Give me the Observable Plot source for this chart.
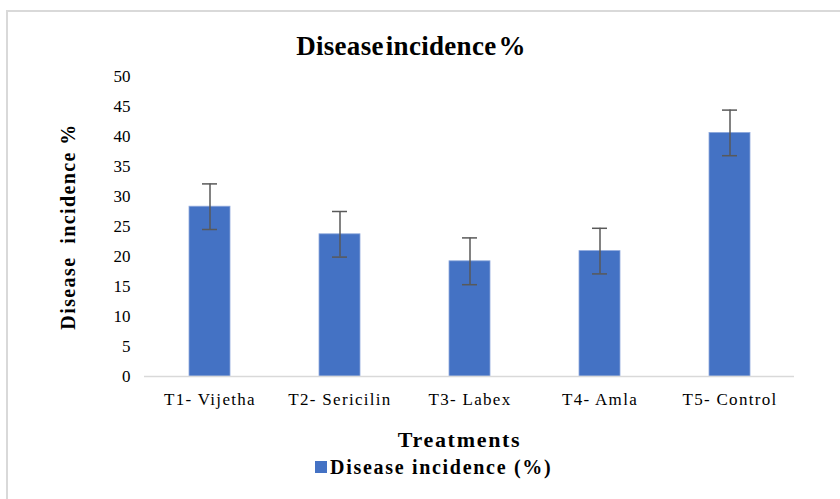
<!DOCTYPE html>
<html>
<head>
<meta charset="utf-8">
<script src="https://cdn.jsdelivr.net/npm/d3@7"></script>
<script src="https://cdn.jsdelivr.net/npm/@observablehq/plot@0.6"></script>
<style>
  html, body { margin: 0; padding: 0; background: #fff; overflow: hidden; }
  body { width: 840px; height: 499px; position: relative; font-family: "Liberation Serif", "Times New Roman", serif; }
  #frame { position: absolute; left: 6px; top: 10px; width: 850px; height: 520px; border: 2px solid #d9d9d9; box-sizing: border-box; }
  #title { position: absolute; left: 0; top: 31px; width: 822px; text-align: center; font-weight: bold; font-size: 27px; letter-spacing: 0.3px; word-spacing: -5px; color: #000; }
  #chart { position: absolute; left: 0; top: 62px; }
  #legend { position: absolute; left: 315px; top: 456px; white-space: nowrap; font-weight: bold; font-size: 20px; letter-spacing: 1.7px; color: #000; }
  #legend .sw { display: inline-block; width: 12px; height: 12px; background: #4472C4; margin-right: 3px; vertical-align: 1px; }
  #chart svg g[aria-label="x-axis tick label"] text { letter-spacing: 1.3px; }
</style>
</head>
<body>
<div id="frame"></div>
<div id="title">Disease incidence %</div>
<div id="chart"></div>
<div id="legend"><span class="sw"></span>Disease incidence (%)</div>
<script>
const treatments = ["T1- Vijetha", "T2- Sericilin", "T3- Labex", "T4- Amla", "T5- Control"];
const incidence = [28.3, 23.7, 19.2, 20.9, 40.6];
const errors = [3.8, 3.8, 3.9, 3.8, 3.8];
const yTicks = [0, 5, 10, 15, 20, 25, 30, 35, 40, 45, 50];
const xTitle = "Treatments";
const yTitle = "Disease  incidence %";

const data = treatments.map((t, i) => ({t, v: incidence[i], lo: incidence[i] - errors[i], hi: incidence[i] + errors[i]}));

const plot = Plot.plot({
  width: 840,
  height: 392,
  marginLeft: 144,
  marginRight: 46,
  marginTop: 14,
  marginBottom: 78,
  style: {fontFamily: "'Liberation Serif', 'Times New Roman', serif", fontSize: "17px", color: "#000", background: "transparent"},
  x: {domain: treatments, paddingInner: 0.685, paddingOuter: 0.3425, label: null, tickSize: 0, tickPadding: 16},
  y: {domain: [0, 50], ticks: yTicks, label: null, tickSize: 0, tickPadding: 14},
  marks: [
    Plot.barY(data, {x: "t", y: "v", fill: "#4472C4", stroke: "#8fa9dc", strokeWidth: 0.8}),
    Plot.ruleY([0], {stroke: "#d9d9d9", strokeWidth: 1.5}),
    Plot.ruleX(data, {x: "t", y1: "lo", y2: "hi", stroke: "#595959", strokeWidth: 1.5}),
    Plot.tickY(data, {x: "t", y: "lo", stroke: "#595959", strokeWidth: 1.5, inset: 13}),
    Plot.tickY(data, {x: "t", y: "hi", stroke: "#595959", strokeWidth: 1.5, inset: 13}),
    Plot.text([xTitle], {frameAnchor: "bottom", dy: 70, dx: -10, text: d => d, fontWeight: "bold", fontSize: 22}),
    Plot.text([yTitle], {frameAnchor: "left", dx: -76, rotate: -90, textAnchor: "middle", text: d => d, fontWeight: "bold", fontSize: 20})
  ]
});
d3.select(plot).selectAll('g[aria-label="text"] text').each(function() {
  const t = this.textContent;
  if (t === xTitle) this.style.letterSpacing = "1.7px";
  else if (t === yTitle) this.style.letterSpacing = "1.4px";
});
document.getElementById("chart").appendChild(plot);
</script>
</body>
</html>
